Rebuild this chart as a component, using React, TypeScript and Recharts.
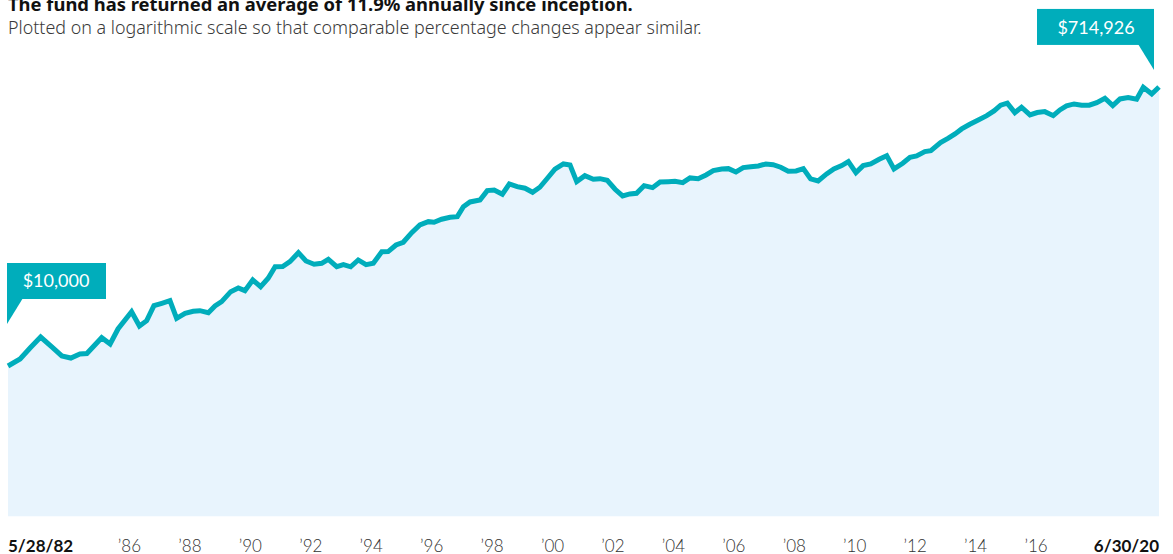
import React from "react";
import { AreaChart, Area, XAxis, YAxis, ReferenceDot } from "recharts";

// Decimal year of each observation
const years: number[] = [
  1982.41, 1982.81, 1983.14, 1983.49, 1983.86, 1984.19, 1984.49, 1984.79, 1985.02, 1985.51,
  1985.79, 1986.05, 1986.5, 1986.76, 1987.0, 1987.24, 1987.5, 1987.77, 1987.99, 1988.27,
  1988.54, 1988.76, 1989.04, 1989.26, 1989.48, 1989.78, 1990.03, 1990.25, 1990.51, 1990.77,
  1991.02, 1991.25, 1991.5, 1991.74, 1992.02, 1992.27, 1992.54, 1992.79, 1993.01, 1993.29,
  1993.51, 1993.75, 1994.0, 1994.26, 1994.5, 1994.78, 1994.99, 1995.25, 1995.49, 1995.77,
  1996.04, 1996.32, 1996.51, 1996.76, 1997.04, 1997.28, 1997.48, 1997.7, 1998.03, 1998.27,
  1998.5, 1998.77, 1999.0, 1999.26, 1999.52, 1999.77, 2000.01, 2000.26, 2000.51, 2000.79,
  2001.01, 2001.23, 2001.5, 2001.78, 2002.0, 2002.24, 2002.5, 2002.75, 2002.99, 2003.21,
  2003.46, 2003.74, 2003.99, 2004.26, 2004.48, 2004.74, 2004.98, 2005.25, 2005.51, 2005.75,
  2006.03, 2006.25, 2006.5, 2006.74, 2006.99, 2007.24, 2007.49, 2007.73, 2007.98, 2008.23,
  2008.49, 2008.73, 2008.97, 2009.22, 2009.5, 2009.74, 2010.0, 2010.22, 2010.47, 2010.71,
  2010.96, 2011.24, 2011.49, 2011.73, 2012.02, 2012.26, 2012.48, 2012.75, 2012.95, 2013.27,
  2013.53, 2013.75, 2013.97, 2014.24, 2014.52, 2014.8, 2015.04, 2015.26, 2015.48, 2015.73,
  2015.95, 2016.23, 2016.47, 2016.72, 2017.0, 2017.22, 2017.44, 2017.69, 2017.94, 2018.19,
  2018.44, 2018.71, 2018.97, 2019.21, 2019.48, 2019.76, 2019.98, 2020.26, 2020.5,
];

// Value of a $10,000 investment (USD)
const values: number[] = [
  10000, 11130, 13170, 15580, 13380, 11660, 11300, 12020, 12100, 15420,
  14000, 17620, 22960, 18450, 20010, 25160, 26100, 27160, 20750, 22400,
  23100, 23310, 22610, 25050, 26750, 31170, 32990, 31660, 37290, 33660,
  38270, 45710, 45800, 49340, 56620, 49880, 47420, 48150, 51190, 45710,
  47130, 45600, 50640, 47130, 48150, 57500, 57600, 63710, 66400, 76910,
  86520, 91010, 90180, 94410, 97340, 98240, 114500, 123000, 126900, 146300,
  147800, 138400, 162000, 155500, 151800, 142700, 154100, 176800, 202900, 220000,
  216700, 167900, 184000, 174100, 175700, 171500, 149400, 134900, 139100, 140500,
  157900, 153100, 167100, 167900, 168900, 165300, 177700, 175500, 186000, 198600,
  203900, 204800, 194700, 208000, 211100, 213400, 220000, 217700, 209200, 196800,
  197700, 204800, 175000, 169700, 188900, 203900, 214500, 227900, 192600, 214500,
  220000, 236400, 249800, 203900, 222400, 243800, 248700, 265700, 269800, 304900,
  326200, 348400, 376000, 404100, 431500, 460800, 495400, 540500, 557200, 482700,
  524200, 465900, 483000, 489900, 460800, 502700, 534600, 551200, 540500, 541000,
  562300, 601400, 537000, 595000, 607000, 592700, 711800, 642300, 714926,
];

const tickYears: number[] = [1982.41, 1986, 1988, 1990, 1992, 1994, 1996, 1998, 2000, 2002, 2004, 2006, 2008, 2010, 2012, 2014, 2016, 2020.5];
const tickLabels: string[] = ["5/28/82", "’86", "’88", "’90", "’92", "’94", "’96", "’98", "’00", "’02", "’04", "’06", "’08", "’10", "’12", "’14", "’16", "6/30/20"];

const startLabel = "$10,000";
const endLabel = "$714,926";
const title = "The fund has returned an average of 11.9% annually since inception.";
const subtitle = "Plotted on a logarithmic scale so that comparable percentage changes appear similar.";

const TEAL = "#00adbb";
const FILL = "#e8f4fd";
const FONT = "Lato, 'Noto Sans', sans-serif";
const HEAD_FONT = "'Noto Sans', sans-serif";

const data = years.map((t, i) => ({ t, v: values[i] }));

const Tick = (props: any) => {
  const { x, y, payload } = props;
  const idx = tickYears.indexOf(payload.value);
  const first = idx === 0;
  const last = idx === tickYears.length - 1;
  const anchor = first ? "start" : last ? "end" : "middle";
  const dx = first || last ? 0 : 13;
  return (
    <text
      x={x + dx}
      y={y + 27}
      textAnchor={anchor}
      fontFamily={FONT}
      fontSize={17}
      fontWeight={first || last ? 700 : 300}
      fill={first || last ? "#111" : "#333"}
    >
      {tickLabels[idx]}
    </text>
  );
};

const StartCallout = (props: any) => {
  const { cx, cy } = props;
  return (
    <g>
      <rect x={cx - 1} y={cy - 103} width={99} height={36} fill={TEAL} />
      <polygon points={`${cx - 1},${cy - 68} ${cx + 15},${cy - 68} ${cx - 1},${cy - 42}`} fill={TEAL} />
      <text x={cx + 48} y={cy - 79} textAnchor="middle" fill="#fff" fontFamily={FONT} fontSize={18}>
        {startLabel}
      </text>
    </g>
  );
};

const EndCallout = (props: any) => {
  const { cx, cy } = props;
  return (
    <g>
      <rect x={cx - 122} y={cy - 78} width={117} height={36} fill={TEAL} />
      <polygon points={`${cx - 21},${cy - 43} ${cx - 5},${cy - 43} ${cx - 5},${cy - 17}`} fill={TEAL} />
      <text x={cx - 63} y={cy - 53} textAnchor="middle" fill="#fff" fontFamily={FONT} fontSize={18}>
        {endLabel}
      </text>
    </g>
  );
};

export default function App() {
  return (
    <div style={{ position: "absolute", left: 0, top: 0, width: 1173, height: 554, background: "#fff", overflow: "hidden" }}>
      <div
        style={{
          position: "absolute",
          left: 8,
          top: -7,
          fontFamily: HEAD_FONT,
          fontWeight: 700,
          fontSize: 18.4,
          color: "#111",
          whiteSpace: "nowrap",
          lineHeight: "22px",
        }}
      >
        {title}
      </div>
      <div
        style={{
          position: "absolute",
          left: 8,
          top: 16,
          fontFamily: HEAD_FONT,
          fontWeight: 300,
          fontSize: 17.9,
          color: "#3a3a3a",
          whiteSpace: "nowrap",
          lineHeight: "22px",
        }}
      >
        {subtitle}
      </div>
      <div style={{ position: "absolute", left: 0, top: 0 }}>
        <AreaChart width={1173} height={554} data={data} margin={{ top: 65, right: 14, bottom: 7.5, left: 8 }}>
          <XAxis
            dataKey="t"
            type="number"
            domain={[1982.41, 2020.5]}
            ticks={tickYears}
            interval={0}
            axisLine={false}
            tickLine={false}
            height={30}
            tick={<Tick />}
          />
          <YAxis hide scale="log" domain={[1000, 1000000]} allowDataOverflow type="number" />
          <Area
            type="linear"
            dataKey="v"
            stroke={TEAL}
            strokeWidth={5}
            fill={FILL}
            fillOpacity={1}
            baseValue={1000}
            isAnimationActive={false}
            dot={false}
            activeDot={false}
          />
          <ReferenceDot x={years[0]} y={values[0]} shape={<StartCallout />} />
          <ReferenceDot x={years[years.length - 1]} y={values[values.length - 1]} shape={<EndCallout />} />
        </AreaChart>
      </div>
    </div>
  );
}
